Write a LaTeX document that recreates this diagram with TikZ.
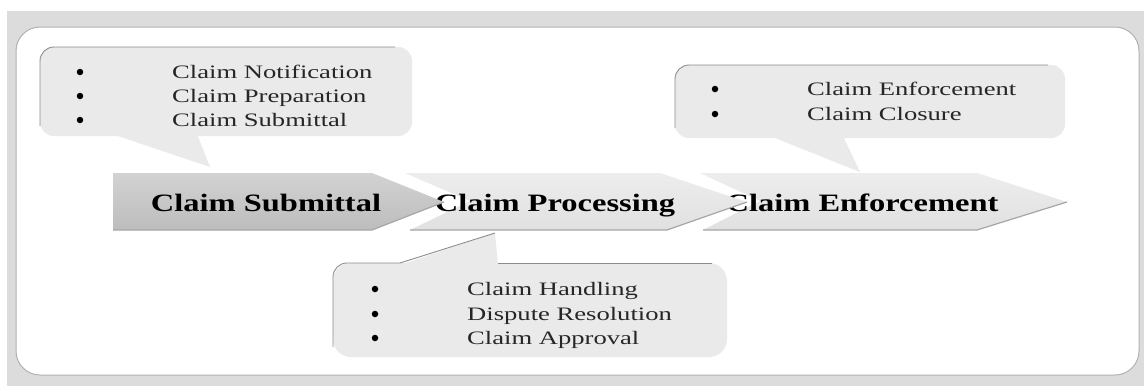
\documentclass[tikz,border=0pt]{standalone}
\usepackage{fontspec}
\setmainfont{Liberation Serif}
\newfontfamily\listfont[FakeStretch=1.4]{Liberation Serif}
\newfontfamily\chevfont[FakeStretch=1.3]{Liberation Serif}
\definecolor{bggray}{HTML}{DCDCDC}
\definecolor{bubblegray}{HTML}{EAEAEA}
\definecolor{edgegray}{HTML}{8C8C8C}
\begin{document}
\begin{tikzpicture}[x=1pt,y=-1pt,
  bubble/.style={fill=bubblegray, draw=none},
  bubbleedge/.style={draw=edgegray, line width=0.9pt, rounded corners=14pt},
  chevdark/.style={top color=gray!35, bottom color=gray!52, draw=none},
  chevlight/.style={top color=gray!14, bottom color=gray!24, draw=none},
  chevedge/.style={draw=gray!70, line width=1.2pt, line join=round},
  lst/.style={font=\listfont\fontsize{19}{22}\selectfont, anchor=base west, inner sep=0pt, text=black!85},
  bul/.style={circle, fill=black, inner sep=0pt, minimum size=6.5pt},
  chevtext/.style={font=\chevfont\bfseries\fontsize{25}{30}\selectfont, anchor=base, inner sep=0pt}]
\useasboundingbox (0,0) rectangle (1144,386);
\fill[white] (0,0) rectangle (1144,386);
% outer gray frame
\fill[bggray] (7,11) rectangle (1144,386);
% inner white panel
\fill[white, draw=gray!60, line width=1pt, rounded corners=24pt] (16,27) rectangle (1139,375);

% ---- bubble 1 (top left)
\fill[bubble, rounded corners=14pt] (40,47) rectangle (412,136);
\fill[bubble] (112,134) -- (210,167) -- (197,134) -- cycle;
\draw[bubbleedge] (40,126) -- (40,47) -- (395,47);
\node[bul] (b1a) at (80,72) {};
\node[bul] (b1b) at (80,96) {};
\node[bul] (b1c) at (80,120) {};
\node[lst] (t1a) at (172,78) {Claim Notification};
\node[lst] (t1b) at (172,102) {Claim Preparation};
\node[lst] (t1c) at (172,126) {Claim Submittal};

% ---- bubble 3 (top right)
\fill[bubble, rounded corners=14pt] (675,65) rectangle (1065,138);
\fill[bubble] (770,136) -- (860,172) -- (843,136) -- cycle;
\draw[bubbleedge] (675,128) -- (675,65) -- (1048,65);
\node[bul] (b3a) at (715,89) {};
\node[bul] (b3b) at (715,114) {};
\node[lst] (t3a) at (807,95) {Claim Enforcement};
\node[lst] (t3b) at (807,120) {Claim Closure};

% ---- chevron 3
\path[chevlight] (700,173) -- (977,173) -- (1067,202) -- (977,230) -- (703,230) -- (760,201) -- cycle;
\draw[chevedge] (703,230) -- (977,230) -- (1067,202);
\node[chevtext] (c3) at (862,211) {Claim Enforcement};

% ---- chevron 2
\path[chevlight] (405,173) -- (660,173) -- (747,202) -- (667,230) -- (410,230) -- (470,201) -- cycle;
\draw[chevedge] (410,230) -- (667,230) -- (747,202);
\node[chevtext] (c2) at (555,211) {Claim Processing};

% ---- chevron 1
\path[chevdark] (113,173) -- (372,173) -- (444,202) -- (372,230) -- (113,230) -- cycle;
\draw[chevedge] (113,230) -- (372,230) -- (444,202);
\node[chevtext] (c1) at (266,211) {Claim Submittal};

% ---- bubble 2 (bottom)
\fill[bubble, rounded corners=18pt] (333,263) rectangle (727,357);
\fill[bubble] (400,265) -- (495,233) -- (498,265) -- cycle;
\draw[bubbleedge] (333,347) -- (333,263) -- (400,263);
\draw[draw=edgegray, line width=0.9pt] (400,263) -- (495,233);
\draw[bubbleedge] (498,263) -- (712,263);
\node[bul] (b2a) at (375,289) {};
\node[bul] (b2b) at (375,314) {};
\node[bul] (b2c) at (375,338) {};
\node[lst] (t2a) at (467,295) {Claim Handling};
\node[lst] (t2b) at (467,320) {Dispute Resolution};
\node[lst] (t2c) at (467,344) {Claim Approval};
\end{tikzpicture}
\end{document}
